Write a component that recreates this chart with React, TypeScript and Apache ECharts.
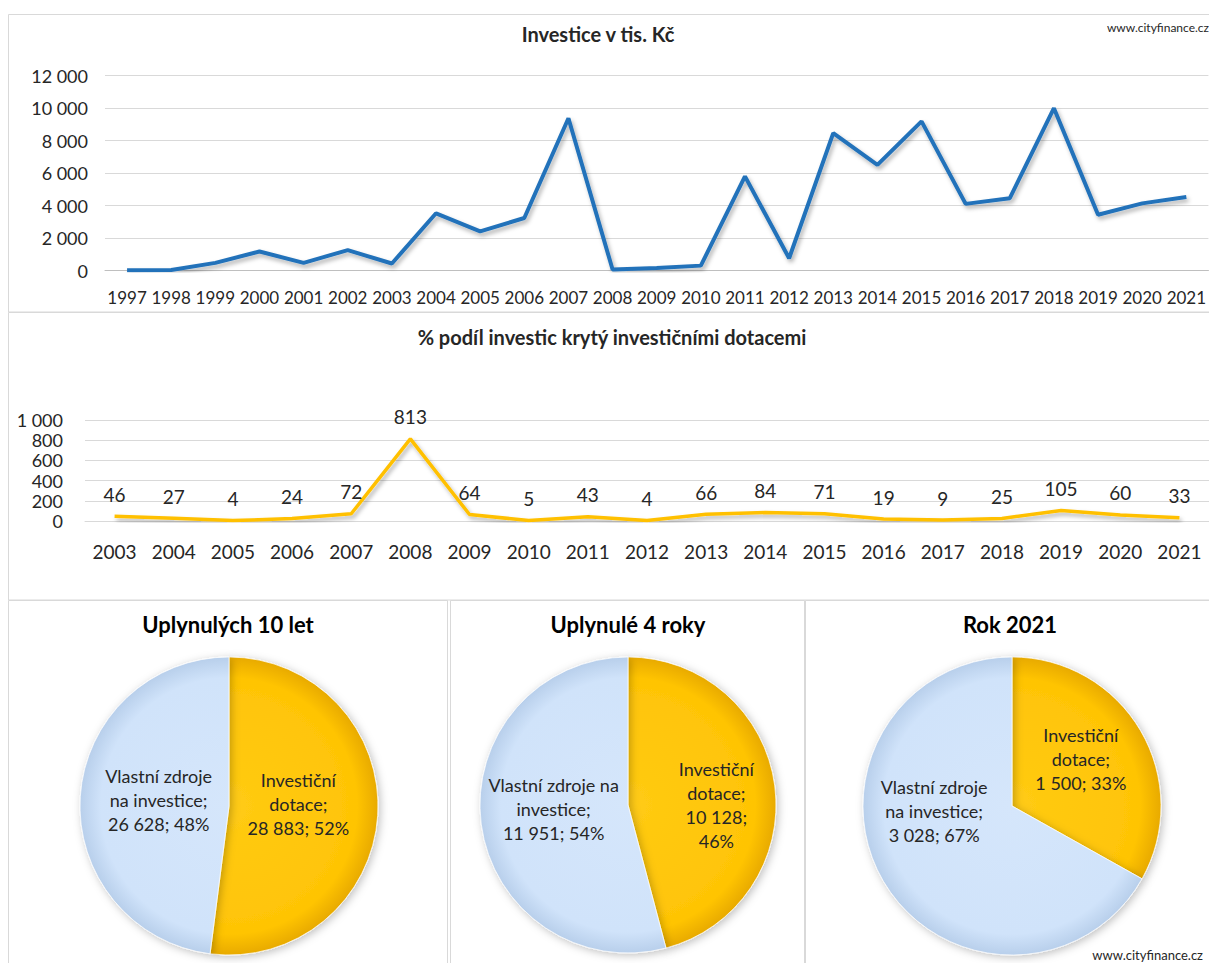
import React, { useEffect, useRef } from "react";
import * as echarts from "echarts";

const investYears = ["1997", "1998", "1999", "2000", "2001", "2002", "2003", "2004", "2005", "2006", "2007", "2008", "2009", "2010", "2011", "2012", "2013", "2014", "2015", "2016", "2017", "2018", "2019", "2020", "2021"];
const investValues = [20, 30, 470, 1170, 470, 1250, 430, 3520, 2410, 3230, 9370, 60, 160, 300, 5790, 752, 8450, 6500, 9180, 4100, 4450, 9990, 3430, 4131, 4528];

const shareYears = ["2003", "2004", "2005", "2006", "2007", "2008", "2009", "2010", "2011", "2012", "2013", "2014", "2015", "2016", "2017", "2018", "2019", "2020", "2021"];
const shareValues = [46, 27, 4, 24, 72, 813, 64, 5, 43, 4, 66, 84, 71, 19, 9, 25, 105, 60, 33];

const sliceNames = ["Investiční dotace", "Vlastní zdroje na investice"];
const pieTitles = ["Uplynulých 10 let", "Uplynulé 4 roky", "Rok 2021"];
const pieLast10 = [28883, 26628];
const pieLast4 = [10128, 11951];
const pie2021 = [1500, 3028];

const FONT = "Lato";
const TXT = "#262626";

const fmt = (v: number) => String(Math.round(v)).replace(/\B(?=(\d{3})+(?!\d))/g, " ");

// label line breaks and nudges per pie (styling only)
const wraps = [
  { names: ["Investiční\ndotace", "Vlastní zdroje\nna investice"], sep: ["; ", "; "], nudge: [[-8, -7], [7, -1]] },
  { names: ["Investiční\ndotace", "Vlastní zdroje na\ninvestice"], sep: [";\n", "; "], nudge: [[12, 10], [2, -6]] },
  { names: ["Investiční\ndotace", "Vlastní zdroje\nna investice"], sep: ["; ", "; "], nudge: [[2, -8], [-11, -34]] },
];

export default function App() {
  const ref = useRef<HTMLDivElement>(null);
  useEffect(() => {
    document.body.style.margin = "0";
    const chart = echarts.init(ref.current!, undefined, { renderer: "svg" });

    const pieCenters: [number, number][] = [[229, 806], [628, 805], [1012, 806]];
    const pieR = [149, 148, 149];
    const pieSets = [pieLast10, pieLast4, pie2021];

    const pieSeries = pieSets.map((vals, pi) => {
      const [cx, cy] = pieCenters[pi];
      const r = pieR[pi];
      const gold = new echarts.graphic.RadialGradient(cx, cy, r, [
        { offset: 0, color: "#FFCB14" },
        { offset: 0.86, color: "#FFC405" },
        { offset: 1, color: "#E8AA00" },
      ], true);
      const blue = new echarts.graphic.RadialGradient(cx, cy, r, [
        { offset: 0, color: "#D5E6FB" },
        { offset: 0.86, color: "#D0E3FA" },
        { offset: 1, color: "#B8CFEB" },
      ], true);
      return {
        type: "pie",
        center: [cx, cy],
        radius: r,
        startAngle: 90,
        clockwise: true,
        silent: true,
        itemStyle: {
          borderColor: "rgba(255,255,255,0.7)",
          borderWidth: 1,
          shadowBlur: 8,
          shadowColor: "rgba(0,0,0,0.25)",
          shadowOffsetX: 2,
          shadowOffsetY: 2,
        },
        label: {
          show: true,
          position: "inside",
          fontFamily: FONT,
          fontSize: 18,
          lineHeight: 24,
          color: TXT,
          align: "center",
          formatter: (p: any) =>
            `${wraps[pi].names[p.dataIndex]};\n${fmt(p.value)}${wraps[pi].sep[p.dataIndex]}${Math.round(p.percent)}%`,
        },
        labelLayout: (p: any) => ({ dx: wraps[pi].nudge[p.dataIndex][0], dy: wraps[pi].nudge[p.dataIndex][1] }),
        labelLine: { show: false },
        data: vals.map((v, i) => ({
          name: sliceNames[i],
          value: v,
          itemStyle: { color: i === 0 ? gold : blue },
        })),
      };
    });

    const panel = (x: number, y: number, w: number, h: number) => ({
      type: "rect",
      shape: { x, y, width: w, height: h },
      style: { fill: "none", stroke: "#D9D9D9", lineWidth: 1 },
      silent: true,
    });

    chart.setOption({
      animation: false,
      backgroundColor: "#ffffff",
      textStyle: { fontFamily: FONT },
      graphic: [
        panel(8.5, 14.5, 1220, 297.5),
        panel(8.5, 312.5, 1220, 287.5),
        panel(8.5, 600.5, 439, 380),
        panel(450.5, 600.5, 354, 380),
        panel(805.5, 600.5, 420, 380),
        {
          type: "text",
          right: 0,
          top: 21,
          style: { text: "www.cityfinance.cz", font: `12px ${FONT}`, fill: TXT },
        },
        {
          type: "text",
          right: 6,
          top: 948,
          style: { text: "www.cityfinance.cz", font: `13px ${FONT}`, fill: TXT },
        },
      ],
      title: [
        { text: "Investice v tis. Kč", left: 598, top: 24, textAlign: "center", padding: 0, textStyle: { fontFamily: FONT, fontSize: 20, fontWeight: "bold", color: TXT } },
        { text: "% podíl investic krytý investičními dotacemi", left: 612, top: 327, textAlign: "center", padding: 0, textStyle: { fontFamily: FONT, fontSize: 20, fontWeight: "bold", color: TXT } },
        ...pieTitles.map((t, i) => ({
          text: t,
          left: [228, 628, 1010][i],
          top: 613,
          textAlign: "center",
          padding: 0,
          textStyle: { fontFamily: FONT, fontSize: 22, fontWeight: "bold", color: "#000" },
        })),
      ],
      grid: [
        { left: 105, top: 75.5, width: 1107, height: 195, containLabel: false },
        { left: 85, top: 420, width: 1128, height: 101, containLabel: false },
      ],
      xAxis: [
        {
          type: "category",
          gridIndex: 0,
          data: investYears,
          boundaryGap: true,
          axisTick: { show: false },
          axisLine: { show: true, lineStyle: { color: "#BFBFBF", width: 1 } },
          axisLabel: { interval: 0, margin: 18, fontFamily: FONT, fontSize: 17, color: TXT },
        },
        {
          type: "category",
          gridIndex: 1,
          data: shareYears,
          boundaryGap: true,
          axisTick: { show: false },
          axisLine: { show: true, lineStyle: { color: "#D9D9D9", width: 1 } },
          axisLabel: { interval: 0, margin: 21, fontFamily: FONT, fontSize: 19, color: TXT },
        },
      ],
      yAxis: [
        {
          type: "value",
          gridIndex: 0,
          min: 0,
          max: 12000,
          interval: 2000,
          axisLine: { show: false },
          axisTick: { show: false },
          splitLine: { lineStyle: { color: "#D9D9D9" } },
          axisLabel: { margin: 17, fontFamily: FONT, fontSize: 18, color: TXT, formatter: (v: number) => fmt(v) },
        },
        {
          type: "value",
          gridIndex: 1,
          min: 0,
          max: 1000,
          interval: 200,
          axisLine: { show: false },
          axisTick: { show: false },
          splitLine: { lineStyle: { color: "#D9D9D9" } },
          axisLabel: { margin: 22, fontFamily: FONT, fontSize: 18, lineHeight: 18, color: TXT, formatter: (v: number) => fmt(v) },
        },
      ],
      series: [
        {
          type: "line",
          xAxisIndex: 0,
          yAxisIndex: 0,
          data: investValues,
          symbol: "none",
          smooth: false,
          lineStyle: { color: "#2372BA", width: 4, shadowColor: "rgba(0,0,0,0.3)", shadowBlur: 4, shadowOffsetX: 2, shadowOffsetY: 3 },
          silent: true,
        },
        {
          type: "line",
          xAxisIndex: 1,
          yAxisIndex: 1,
          data: shareValues,
          symbol: "circle",
          symbolSize: 1,
          showSymbol: true,
          itemStyle: { color: "rgba(0,0,0,0)" },
          smooth: false,
          lineStyle: { color: "#FFC000", width: 3.5, shadowColor: "rgba(0,0,0,0.3)", shadowBlur: 4, shadowOffsetX: 2, shadowOffsetY: 3 },
          label: { show: true, position: "top", distance: 12, fontFamily: FONT, fontSize: 19, color: TXT },
          labelLayout: { hideOverlap: false },
          silent: true,
        },
        ...pieSeries,
      ],
    });
    return () => chart.dispose();
  }, []);
  return <div ref={ref} style={{ width: 1209, height: 963 }} />;
}
